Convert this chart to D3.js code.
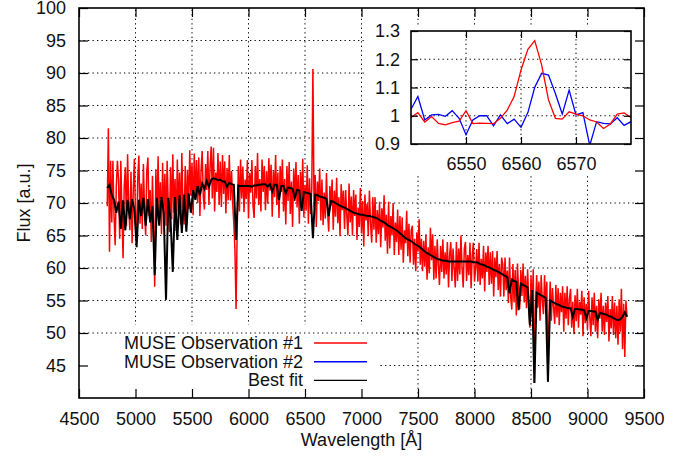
<!DOCTYPE html>
<html>
<head>
<meta charset="utf-8">
<script src="https://cdn.jsdelivr.net/npm/d3@7"></script>
<style>
  body { margin: 0; background: #fff; }
  svg text { font-family: "Liberation Sans", Arial, Helvetica, sans-serif; font-size: 18px; fill: #111; }
</style>
</head>
<body>
<svg id="chart" width="691" height="457"></svg>
<script>
// MUSE observation #1 (red), sampled every 10 A from 4750 A
const obsStart = 4750;
const obsStep = 10;
const obs1Flux = [
  69.5, 81.5, 62.5, 76.5, 67, 76.5, 68, 63.5, 72.5, 76.5,
  73.5, 64.5, 76.5, 68.5, 61.5, 72.5, 75.5, 66.5, 77.5, 69.5,
  65.8, 74.8, 63.8, 71.8, 76.8, 67.8, 64.8, 73.8, 77.3, 66.8,
  73, 66, 76, 69, 65, 75, 77, 68, 72, 64,
  74.2, 66.2, 57.1, 75.2, 68.2, 77.2, 67.2, 73.2, 65.2, 76.2,
  67.5, 74.5, 66.5, 76.5, 69.5, 65.5, 75.5, 67.5, 77.5, 68.5,
  73.7, 65.7, 76.7, 68.7, 74.7, 66.7, 77.7, 69.7, 66.7, 75.7,
  67.1, 75.1, 69.1, 78.1, 71.1, 76.1, 68.1, 77.6, 70.6, 76.6,
  70, 77, 68, 75, 78, 71, 69, 76, 72, 78,
  69.7, 75.7, 78.7, 70.7, 78.5, 68.7, 74.7, 71.7, 77.7, 69.7,
  76.4, 69.4, 77.4, 71.4, 76.4, 68.4, 75.4, 70.4, 77.4, 70.4,
  74.9, 69.9, 66.9, 62.9, 53.7, 66, 75.7, 68.7, 76.7, 70.7,
  75.6, 68.6, 73.6, 70.6, 76.6, 67.6, 74.6, 71.6, 76.6, 69.6,
  67.7, 75.7, 70.7, 77.7, 69.7, 73.7, 68.7, 76.7, 71.7, 75.7,
  68.9, 74.9, 69.9, 76.9, 71.9, 75.9, 67.9, 74.9, 70.9, 77.4,
  69.7, 74.7, 67.7, 75.7, 71.7, 76.7, 68.7, 73.7, 66.7, 75.7,
  70.3, 76.3, 68.3, 73.3, 66.3, 75.3, 70.3, 76.3, 69.3, 74.3,
  66.8, 74.8, 69.8, 76.8, 67.8, 72.8, 68.8, 75.8, 66.8, 73.8,
  68.3, 72.3, 90.6, 69.3, 74.3, 66.3, 73.3, 70.3, 75.3, 67.3,
  73.6, 66.6, 71.6, 67.6, 74.6, 68.6, 65.6, 72.6, 69.6, 73.6,
  65.9, 71.9, 67.9, 73.9, 66.9, 70.9, 64.9, 72.9, 68.9, 71.9,
  66, 72, 68, 65, 73, 67, 71, 65, 72, 68,
  71.3, 64.3, 69.3, 66.3, 72.3, 65.3, 70.3, 63.3, 71.3, 67.3,
  69.9, 64.9, 71.9, 66.9, 63.9, 70.9, 65.9, 70.9, 63.9, 68.9,
  65.2, 70.2, 63.2, 69.2, 66.2, 71.2, 64.2, 68.2, 62.2, 70.2,
  63, 68, 65, 70, 62, 67, 64, 69, 62, 68,
  62.8, 67.8, 60.8, 65.8, 63.8, 68.8, 61.8, 66.8, 60.8, 65.8,
  66.5, 60.5, 64.5, 59.5, 65.5, 62.5, 67.5, 60.5, 64.5, 59.5,
  64.2, 60.2, 65.2, 58.2, 63.2, 59.2, 66.2, 61.2, 65.2, 58.2,
  63.4, 58.4, 64.4, 60.4, 57.4, 63.4, 59.4, 64.4, 58.4, 62.4,
  59, 64, 57, 62, 64, 58, 63, 60, 57, 64,
  58, 63, 59, 65, 60, 57, 63, 64, 58, 62,
  58.9, 63.9, 56.9, 61.9, 63.9, 57.9, 59.9, 62.9, 57.9, 63.9,
  57.4, 61.4, 58.4, 63.4, 56.4, 62.4, 59.4, 63.4, 57.4, 62.4,
  57.6, 62.6, 55.6, 61.6, 58.6, 62.6, 56.6, 60.6, 55.6, 61.6,
  60.6, 55.6, 61.6, 56.6, 59.6, 54.6, 61.6, 55.6, 53.6, 60.6,
  54.7, 59.7, 52.7, 60.7, 56.7, 53.7, 59.7, 55.7, 60.7, 54.7,
  58.8, 53.8, 59.8, 54.8, 50.8, 58.8, 53.8, 59.8, 42.3, 53.8,
  58.9, 53.9, 57.9, 51.9, 58.9, 54.9, 52.9, 58.9, 53.9, 57.9,
  42.5, 52.9, 57.9, 51.9, 56.9, 53.9, 51.4, 57.4, 52.4, 56.9,
  51.2, 56.2, 53.2, 57.2, 50.2, 56.2, 52.2, 57.2, 51.2, 55.2,
  56.8, 50.8, 54.8, 49.8, 55.8, 51.8, 56.8, 50.8, 54.8, 52.8,
  56.5, 49.5, 55.5, 51.5, 54.5, 50.5, 56.5, 52.5, 49.5, 55.5,
  51.2, 56.2, 50.2, 54.2, 49.2, 55.2, 52.2, 56.2, 50.2, 54.2,
  49.7, 54.7, 51.7, 55.7, 48.7, 53.7, 50.7, 55.7, 49.7, 54.7,
  49.2, 54.2, 48.2, 55.2, 50.2, 56.8, 47.5, 54.5, 46.3, 55,
  52.5
];

// best fit (black), sampled every 20 A from 4750 A
const fitStart = 4750;
const fitStep = 20;
const fitFlux = [
  72.3, 72.8, 71.2, 70.5, 68.5, 70.2, 66, 70.4, 65.8, 70.5,
  67.5, 70.6, 69, 63.2, 70.5, 68, 70.8, 66.5, 70.6, 67,
  69.5, 58.9, 70.8, 66.5, 70.9, 68.5, 55.1, 70.8, 67.5, 59.4,
  70.9, 64.3, 71.2, 65.4, 71.3, 65.6, 71.5, 68.5, 72, 70.5,
  72.6, 71.2, 73, 72.2, 73.4, 72.5, 73.6, 73.8, 73.7, 73.5,
  73.6, 73.3, 73.3, 72.5, 73.1, 72.9, 72.8, 64.3, 72.7, 72.6,
  72.6, 72.6, 72.6, 72.6, 72.5, 72.7, 72.7, 72.8, 72.8, 72.9,
  72.9, 72.5, 72.9, 71.8, 72.8, 72.8, 70.5, 72.6, 72.6, 71.5,
  72.4, 72.3, 72.2, 70.8, 72, 71.9, 68.8, 71.7, 71.6, 71.5,
  71.4, 64.6, 71.3, 71.2, 71, 70.9, 70.8, 70.6, 68, 70.3,
  70.2, 70, 69.8, 69.6, 69.4, 69.3, 69.1, 68.9, 68.7, 68.5,
  68.4, 68.3, 68.2, 68.2, 68.1, 68, 68, 67.9, 67.8, 67.7,
  67.5, 67.3, 67.1, 66.9, 66.6, 66.4, 66.2, 66, 65.8, 65.5,
  65.2, 64.9, 64.6, 64.4, 64.2, 64, 63.7, 63.5, 63.3, 63,
  62.7, 62.4, 62.2, 62, 61.8, 61.6, 61.4, 61.3, 61.2, 61.1,
  61.1, 61, 61, 61, 61, 61, 61, 61, 61, 61,
  61, 61, 60.9, 60.9, 60.8, 60.6, 60.5, 60.4, 60.2, 60.1,
  59.9, 59.7, 59.6, 59.4, 59.2, 59, 58.8, 58.6, 56.1, 58.2,
  58, 57.9, 53.5, 57.6, 57.4, 57.2, 57, 51.2, 56.6, 42.3,
  56.2, 56, 55.8, 55.6, 55.4, 42.5, 55, 54.8, 54.6, 54.4,
  54.3, 54.1, 54, 53.9, 53.8, 53.8, 52.5, 53.7, 53.7, 53.6,
  53.6, 53.5, 52.3, 53.4, 53.4, 53.3, 53.3, 52, 53.1, 53,
  52.9, 52.8, 52.6, 52.5, 52.3, 52.1, 52, 52.1, 52.5, 53.2,
  52.5
];

// inset: normalised flux around H-alpha, MUSE sampling 1.25 A
const insetStart = 6540;
const insetStep = 1.25;
const insetObs1 = [
  0.994, 1.011, 0.978, 0.997, 0.973, 0.968, 0.976, 0.981, 1.018, 0.972,
  0.974, 0.973, 0.972, 0.991, 1.020, 1.068, 1.162, 1.235, 1.266, 1.180,
  1.056, 0.991, 0.988, 1.014, 1.006, 1.000, 0.985, 0.978, 0.955, 0.971,
  1.006, 1.010, 0.994
];
const insetObs2 = [
  1.023, 1.068, 0.985, 1.003, 1.005, 0.998, 1.018, 0.991, 0.933, 0.985,
  1.000, 1.000, 0.964, 1.003, 0.972, 0.988, 0.959, 1.011, 1.101, 1.150,
  1.144, 1.079, 1.006, 1.091, 1.003, 1.011, 0.895, 0.979, 0.973, 0.971,
  0.993, 0.966, 0.979
];

const xTicks = [4500, 5000, 5500, 6000, 6500, 7000, 7500, 8000, 8500, 9000, 9500];
const yTicks = [45, 50, 55, 60, 65, 70, 75, 80, 85, 90, 95, 100];
const insetXTicks = [6550, 6560, 6570];
const insetYTicks = [0.9, 1, 1.1, 1.2, 1.3];
const legendLabels = ['MUSE Observation #1', 'MUSE Observation #2', 'Best fit'];
const legendColors = ['#ff0000', '#0000ff', '#000000'];

const svg = d3.select('#chart');

// main plot
const plotLeft = 79, plotRight = 644, plotTop = 8, plotBottom = 398;
const x = d3.scaleLinear().domain([4500, 9500]).range([plotLeft, plotRight]);
const y = d3.scaleLinear().domain([40, 100]).range([plotBottom, plotTop]);

svg.append('clipPath').attr('id', 'mainClip')
  .append('rect').attr('x', plotLeft).attr('y', plotTop)
  .attr('width', plotRight - plotLeft).attr('height', plotBottom - plotTop);

function drawGrid(g, xs, ys, xVals, yVals) {
  const [x0, x1] = xs.range();
  const [y0, y1] = ys.range();
  g.selectAll('.gx').data(xVals).enter().append('line')
    .attr('x1', d => xs(d)).attr('x2', d => xs(d))
    .attr('y1', y0).attr('y2', y1)
    .attr('stroke', '#000').attr('stroke-width', 1).attr('stroke-dasharray', '1.3,3.2');
  g.selectAll('.gy').data(yVals).enter().append('line')
    .attr('x1', x0).attr('x2', x1)
    .attr('y1', d => ys(d)).attr('y2', d => ys(d))
    .attr('stroke', '#000').attr('stroke-width', 1).attr('stroke-dasharray', '1.3,3.2');
}

drawGrid(svg.append('g'), x, y, xTicks.slice(1, -1), yTicks.slice(0, -1));

const mainData = svg.append('g').attr('clip-path', 'url(#mainClip)');
const spectrum = (arr, start, step) => arr.map((v, i) => [start + i * step, v]);
const line = d3.line().x(d => x(d[0])).y(d => y(d[1]));

mainData.append('path').datum(spectrum(obs1Flux, obsStart, obsStep))
  .attr('d', line).attr('fill', 'none').attr('stroke', '#ff0000').attr('stroke-width', 1.5);
mainData.append('path').datum(spectrum(fitFlux, fitStart, fitStep))
  .attr('d', line).attr('fill', 'none').attr('stroke', '#000').attr('stroke-width', 2);

// legend
const legend = svg.append('g');
legend.append('rect').attr('x', plotLeft + 1).attr('y', 325)
  .attr('width', 378 - plotLeft).attr('height', plotBottom - 326).attr('fill', '#fff');
legend.append('line')
  .attr('x1', plotLeft).attr('x2', plotRight).attr('y1', y(50)).attr('y2', y(50))
  .attr('stroke', '#000').attr('stroke-width', 1).attr('stroke-dasharray', '1.3,3.2');
legendLabels.forEach((lab, i) => {
  const ly = 343 + i * 18.7;
  legend.append('text').attr('x', 303).attr('y', ly + 6).attr('text-anchor', 'end').text(lab);
  legend.append('line').attr('x1', 314).attr('x2', 367).attr('y1', ly).attr('y2', ly)
    .attr('stroke', legendColors[i]).attr('stroke-width', i === 1 ? 1.6 : 1.3);
});

// white area behind the inset
svg.append('rect').attr('x', 364).attr('y', 27).attr('width', plotRight - 364).attr('height', 148).attr('fill', '#fff');

function drawAxes(g, xs, ys, xVals, yVals, tick, fmt, padX, padY) {
  const [x0, x1] = xs.range();
  const [y0, y1] = ys.range();
  g.append('g').attr('transform', `translate(0,${y0})`)
    .call(d3.axisBottom(xs).tickValues(xVals).tickSize(-tick).tickPadding(padX).tickFormat(fmt));
  g.append('g').attr('transform', `translate(0,${y1})`)
    .call(d3.axisTop(xs).tickValues(xVals).tickSize(-tick).tickFormat(''));
  g.append('g').attr('transform', `translate(${x0},0)`)
    .call(d3.axisLeft(ys).tickValues(yVals).tickSize(-tick).tickPadding(padY).tickFormat(fmt));
  g.append('g').attr('transform', `translate(${x1},0)`)
    .call(d3.axisRight(ys).tickValues(yVals).tickSize(-tick).tickFormat(''));
  g.selectAll('.domain').remove();
  g.selectAll('.tick line').attr('stroke', '#000').attr('stroke-width', 1.2);
  g.selectAll('.tick text').attr('font-size', null).attr('font-family', null).attr('fill', null);
  g.append('rect').attr('x', x0).attr('y', y1).attr('width', x1 - x0).attr('height', y0 - y1)
    .attr('fill', 'none').attr('stroke', '#000').attr('stroke-width', 1.6);
}

drawAxes(svg.append('g'), x, y, xTicks, yTicks, 9, d => String(d), 14, 13);

svg.append('text').attr('x', (plotLeft + plotRight) / 2).attr('y', 446)
  .attr('text-anchor', 'middle').text('Wavelength [Å]');
svg.append('text').attr('transform', `translate(30,${(plotTop + plotBottom) / 2}) rotate(-90)`)
  .attr('text-anchor', 'middle').text('Flux [a.u.]');

// inset
const ix = d3.scaleLinear().domain([6540, 6580]).range([411, 631]);
const iy = d3.scaleLinear().domain([0.9, 1.3]).range([144, 31]);
const inset = svg.append('g');
inset.append('clipPath').attr('id', 'insetClip')
  .append('rect').attr('x', 411).attr('y', 31).attr('width', 220).attr('height', 113);
drawGrid(inset.append('g'), ix, iy, insetXTicks, [1, 1.1, 1.2]);

const insetLine = d3.line().x(d => ix(d[0])).y(d => iy(d[1]));
const insetData = inset.append('g').attr('clip-path', 'url(#insetClip)');
insetData.append('path').datum(spectrum(insetObs2, insetStart, insetStep))
  .attr('d', insetLine).attr('fill', 'none').attr('stroke', '#0000ff').attr('stroke-width', 1.3);
insetData.append('path').datum(spectrum(insetObs1, insetStart, insetStep))
  .attr('d', insetLine).attr('fill', 'none').attr('stroke', '#ff0000').attr('stroke-width', 1.3);

drawAxes(inset.append('g'), ix, iy, insetXTicks, insetYTicks, 7, d => String(d), 13, 11);
</script>
</body>
</html>
